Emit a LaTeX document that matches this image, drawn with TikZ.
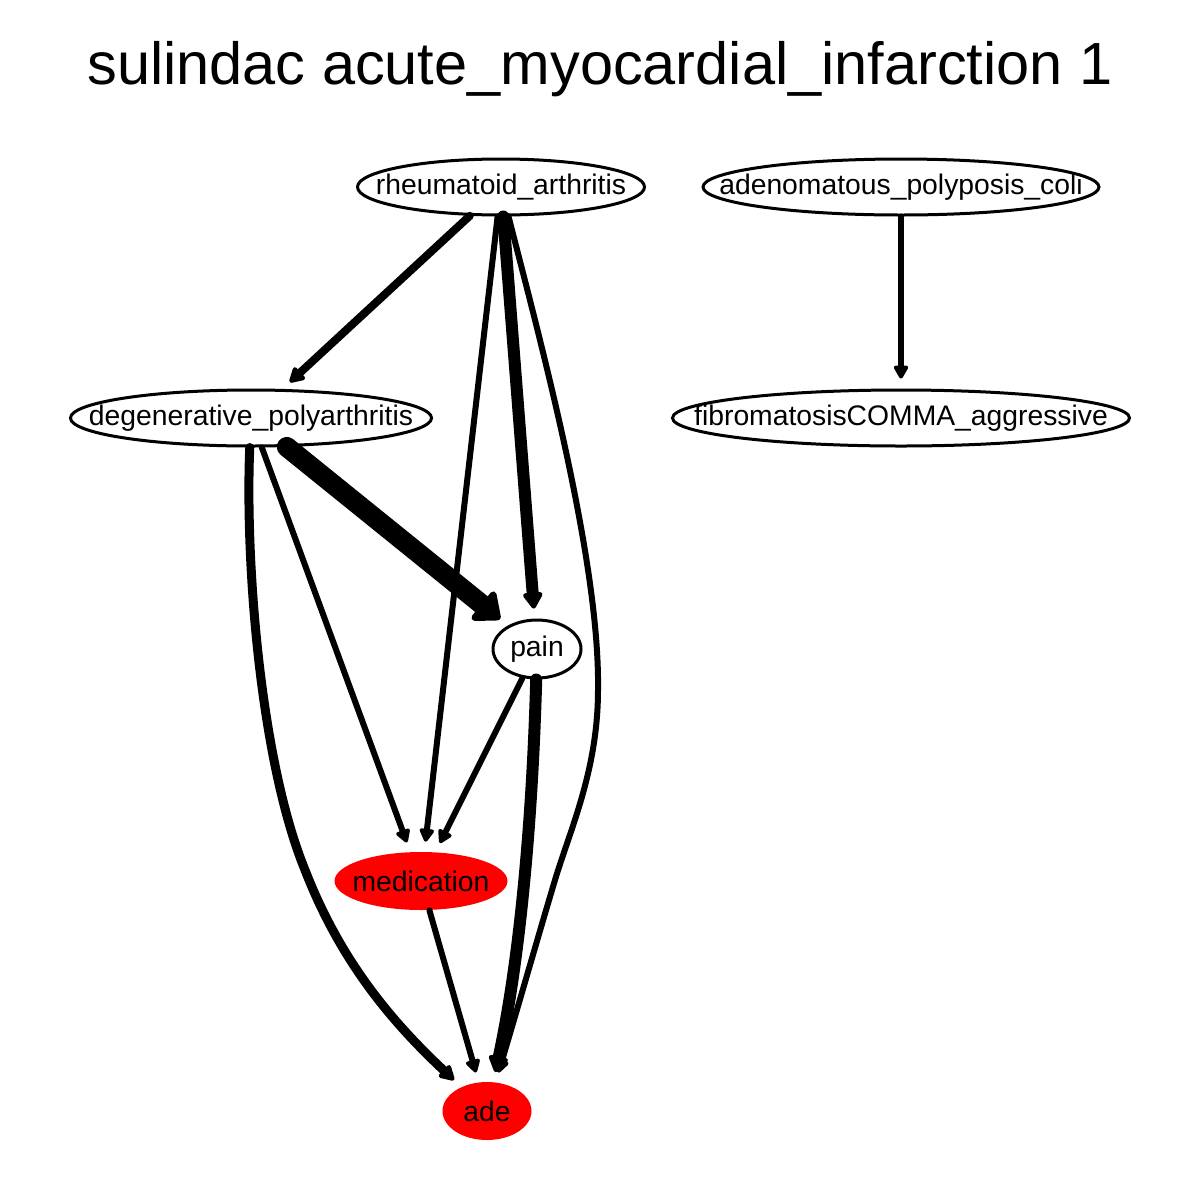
\documentclass[tikz,border=0pt]{standalone}
\usepackage{fontspec}
\setmainfont{Liberation Sans}
\usetikzlibrary{shapes.geometric,arrows.meta}
\begin{document}
\begin{tikzpicture}[x=0.5pt,y=-0.5pt,
  ent/.style={ellipse,draw=black,line width=1.5pt,inner sep=0pt,
    font=\fontsize{14.15}{17}\selectfont},
  hit/.style={ellipse,fill=red,draw=none,inner sep=0pt,
    font=\fontsize{14.15}{17}\selectfont},
  link/.style={line width=#1,line cap=round,line join=round,shorten >=5pt},
  tipS/.style={-{Triangle[round,length=7.5pt,width=8pt,line width=2.5pt]}},
  tipM/.style={-{Triangle[round,length=8.5pt,width=9pt,line width=3pt]}},
  tipL/.style={-{Triangle[round,length=9pt,width=11pt,line width=3.5pt]}},
  tipXL/.style={-{Triangle[round,length=13pt,width=21pt,line width=5pt]}}]
\useasboundingbox[fill=white] (0,0) rectangle (1200,1200);

\node[anchor=base,font=\fontsize{29.75}{34}\selectfont] (title) at (600,84)
  {sulindac acute\_myocardial\_infarction 1};

% nodes: the labels are boxed at zero width so the given sizes fix the ellipses
\node[ent,minimum width=143.5pt,minimum height=28pt] (ra)   at (501,187) {\makebox[0pt]{rheumatoid\_arthritis}};
\node[ent,minimum width=198pt,minimum height=28pt]   (apc)  at (901,187) {\makebox[0pt]{adenomatous\_polyposis\_coli}};
\node[ent,minimum width=180.5pt,minimum height=28pt] (dp)   at (251,418) {\makebox[0pt]{degenerative\_polyarthritis}};
\node[ent,minimum width=228.5pt,minimum height=28pt] (fib)  at (901,418) {\makebox[0pt]{fibromatosisCOMMA\_aggressive}};
\node[ent,minimum width=44pt,minimum height=29pt]    (pain) at (537,649) {\makebox[0pt]{pain}};
\node[hit,minimum width=86.5pt,minimum height=29pt]  (med)  at (421,881) {\makebox[0pt]{medication}};
\node[hit,minimum width=44.5pt,minimum height=29pt]  (ade)  at (487,1111) {\makebox[0pt]{ade}};

% connectors
\draw[link=4pt,tipM] (ra) -- (dp);
\draw[link=6pt,tipL] (ra) -- (pain);
\draw[link=3pt,tipS] (ra) -- (med);
\draw[link=3pt,tipS] (ra) .. controls (540,340) and (600,560) .. (598,690)
  .. controls (598,770) and (570,830) .. (555,880)
  .. controls (540,930) and (520,1000) .. (ade);
\draw[link=3pt,tipS] (apc) -- (fib);
\draw[link=10pt,tipXL] (dp) -- (pain);
\draw[link=3pt,tipS] (dp) -- (med);
\draw[link=4.5pt,tipM] (dp) .. controls (245,560) and (260,760) .. (305,870)
  .. controls (340,960) and (390,1020) .. (ade);
\draw[link=3pt,tipS] (pain) -- (med);
\draw[link=6pt,tipL] (pain) .. controls (533,800) and (522,950) .. (ade);
\draw[link=3pt,tipS] (med) -- (ade);
\end{tikzpicture}
\end{document}
